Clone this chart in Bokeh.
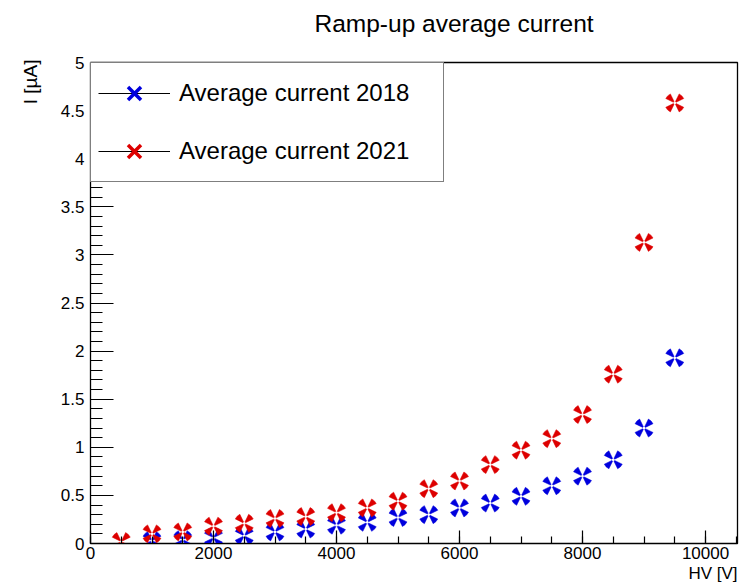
from bokeh.plotting import figure
from bokeh.models import (ColumnDataSource, Range1d, SingleIntervalTicker, NumeralTickFormatter,
                          Legend, LegendItem, Title, LinearAxis, FixedTicker)
from bokeh.embed import file_html
from bokeh.resources import INLINE

# ---- data ----
hv_2018 = [1000, 1500, 2000, 2500, 3000, 3500, 4000, 4500, 5000, 5500,
           6000, 6500, 7000, 7500, 8000, 8500, 9000, 9500]
i_2018 = [0.03, 0.04, 0.06, 0.08, 0.12, 0.15, 0.19, 0.22, 0.27, 0.30,
          0.37, 0.42, 0.49, 0.60, 0.70, 0.87, 1.20, 1.93]
hv_2021 = [500, 1000, 1500, 2000, 2500, 3000, 3500, 4000, 4500, 5000,
           5500, 6000, 6500, 7000, 7500, 8000, 8500, 9000, 9500]
i_2021 = [0.02, 0.10, 0.12, 0.18, 0.21, 0.26, 0.28, 0.32, 0.37, 0.44,
          0.57, 0.65, 0.82, 0.97, 1.09, 1.34, 1.76, 3.13, 4.58]
series_labels = ["Average current 2018", "Average current 2021"]
title_text = "Ramp-up average current"
x_title = "HV [V]"
y_title = "I [\u00b5A]"

FONT = "Liberation Sans"
BLUE = "#0000dd"
RED = "#dd0000"

W, H = 739, 584
p = figure(width=W, height=H, output_backend="svg", toolbar_location=None, title=None,
           x_range=Range1d(0, 10520), y_range=Range1d(0, 5),
           min_border_left=90, min_border_right=2, min_border_top=62, min_border_bottom=41)
p.background_fill_color = "white"
p.border_fill_color = "white"
p.outline_line_color = "black"
p.outline_line_width = 1.3
p.xgrid.visible = False
p.ygrid.visible = False

xax = p.xaxis[0]
yax = p.yaxis[0]

xax.ticker = SingleIntervalTicker(interval=2000, num_minor_ticks=4)
yax.ticker = SingleIntervalTicker(interval=0.5, num_minor_ticks=5)
xax.formatter = NumeralTickFormatter(format="0")
yax.formatter = NumeralTickFormatter(format="0.[0]")
for ax in (xax, yax):
    ax.major_tick_out = 0
    ax.minor_tick_out = 0
    ax.axis_line_color = "black"
    ax.major_tick_line_color = "black"
    ax.minor_tick_line_color = "black"
    ax.major_tick_line_width = 1.2
    ax.minor_tick_line_width = 1.2
    ax.major_label_text_font = FONT
    ax.major_label_text_font_size = "17px"
    ax.major_label_text_color = "black"
xax.major_tick_in = 13
xax.minor_tick_in = 7
yax.major_tick_in = 23
yax.minor_tick_in = 12
xax.major_label_standoff = 3
yax.major_label_standoff = 6

# spacer between frame and title: an axis with one invisible tick and empty label
spacer = LinearAxis(ticker=FixedTicker(ticks=[5000], minor_ticks=[]), major_tick_out=26,
                    major_tick_in=0, minor_tick_out=0, minor_tick_in=0,
                    major_label_standoff=0, major_label_overrides={5000: ""},
                    major_label_text_font_size="1px",
                    axis_line_color=None, major_tick_line_color=None,
                    minor_tick_line_color=None)
p.add_layout(spacer, "above")
p.add_layout(Title(text=title_text, align="left", offset=224, vertical_align="bottom",
                   standoff=0, text_font=FONT, text_font_size="24.5px",
                   text_font_style="normal", text_color="black"), "above")
p.add_layout(Title(text=x_title, align="right", offset=0, standoff=0,
                   text_font=FONT, text_font_size="17px", text_font_style="normal",
                   text_color="black"), "below")
p.add_layout(Title(text=y_title, align="right", offset=-3, standoff=34,
                   text_font=FONT, text_font_size="19px", text_font_style="normal",
                   text_color="black"), "left")

# ---- markers: four wedges forming an X ----
def draw_marker(src, color):
    for d in (45, 135, 225, 315):
        p.annular_wedge(x="x", y="y", source=src,
                        inner_radius=1.5, outer_radius=10,
                        inner_radius_units="screen", outer_radius_units="screen",
                        start_angle=d - 19, end_angle=d + 19,
                        start_angle_units="deg", end_angle_units="deg",
                        fill_color=color, line_color=color, line_width=0.5)

src18 = ColumnDataSource(dict(x=hv_2018, y=i_2018))
src21 = ColumnDataSource(dict(x=hv_2021, y=i_2021))
draw_marker(src18, BLUE)
draw_marker(src21, RED)

# legend proxies (hidden in the plot, drawn in the legend)
items = []
for lab, col, src in zip(series_labels, (BLUE, RED), (src18, src21)):
    ln = p.line(x="x", y="y", source=src, line_color="black", line_width=1.2, visible=False)
    sc = p.scatter(x="x", y="y", source=src, marker="x", size=14, line_color=col,
                   line_width=3.5, visible=False)
    items.append(LegendItem(label=lab, renderers=[ln, sc]))

legend = Legend(items=items, location="top_left", margin=0, padding=7, spacing=12,
                glyph_width=72, glyph_height=46, label_height=46, label_width=257,
                label_standoff=9, label_text_font=FONT, label_text_font_size="24px",
                label_text_color="black", label_text_baseline="middle",
                border_line_color="black", border_line_width=1.3,
                background_fill_color="white", background_fill_alpha=1.0,
                click_policy="none", inactive_fill_alpha=0.0)
p.add_layout(legend, "center")

open("out.html", "w").write(file_html(p, INLINE))
